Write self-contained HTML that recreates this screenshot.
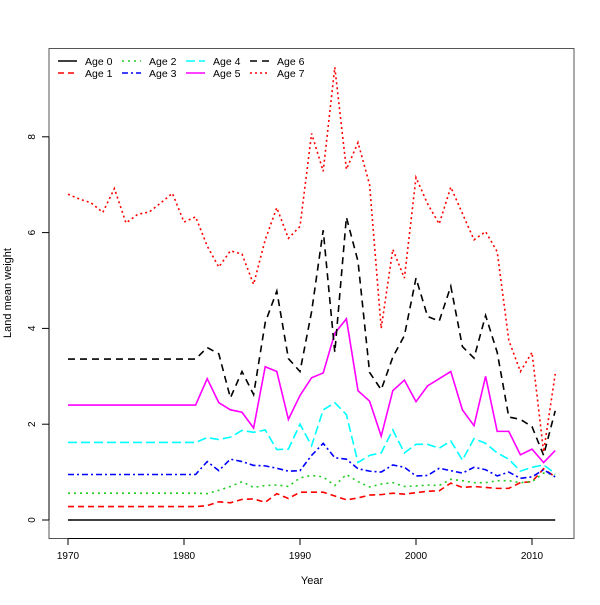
<!DOCTYPE html>
<html><head><meta charset="utf-8"><style>
body{margin:0;background:#fff;}
text{font-family:"Liberation Sans",sans-serif;}
</style></head><body>
<svg id="chart" width="600" height="600" xmlns="http://www.w3.org/2000/svg">
<rect width="600" height="600" fill="#fff"/>
<rect x="49" y="48.5" width="525" height="490" fill="none" stroke="#555" stroke-width="1"/>
<g id="axes"></g>
<g id="series"></g>
<g id="legend"></g>
<text x="312" y="584" font-size="11" text-anchor="middle">Year</text>
<text transform="translate(11,293) rotate(-90)" font-size="11" text-anchor="middle">Land mean weight</text>
</svg>
<script>
const years = [];
for (let y = 1970; y <= 2012; y++) years.push(y);
const flat12 = v => Array(12).fill(v);
const age0 = Array(43).fill(0);
const age1 = flat12(0.28).concat([0.3,0.38,0.36,0.43,0.44,0.37,0.55,0.45,0.58,0.58,0.58,0.5,0.42,0.46,0.52,0.53,0.56,0.54,0.57,0.6,0.61,0.77,0.68,0.7,0.68,0.66,0.66,0.78,0.8,1.07,0.9]);
const age2 = flat12(0.56).concat([0.55,0.62,0.7,0.8,0.68,0.72,0.73,0.7,0.88,0.93,0.9,0.72,0.95,0.8,0.69,0.75,0.78,0.7,0.71,0.73,0.72,0.85,0.82,0.78,0.78,0.82,0.82,0.78,0.8,0.98,0.95]);
const age3 = flat12(0.95).concat([1.22,1.03,1.27,1.22,1.14,1.13,1.08,1.02,1.03,1.35,1.6,1.3,1.27,1.07,1.02,1.0,1.15,1.1,0.92,0.93,1.08,1.03,0.98,1.1,1.05,0.92,1.0,0.87,0.9,1.05,0.9]);
const age4 = flat12(1.62).concat([1.72,1.68,1.73,1.87,1.83,1.88,1.47,1.48,2.0,1.55,2.3,2.45,2.2,1.2,1.35,1.4,1.88,1.4,1.58,1.58,1.5,1.65,1.25,1.7,1.6,1.4,1.27,1.02,1.1,1.15,0.97]);
const age5 = flat12(2.4).concat([2.95,2.45,2.3,2.25,1.92,3.2,3.1,2.1,2.6,2.97,3.07,3.9,4.2,2.7,2.48,1.75,2.7,2.92,2.47,2.8,2.95,3.1,2.3,1.97,3.0,1.85,1.85,1.36,1.48,1.2,1.45]);
const age6 = flat12(3.36).concat([3.6,3.47,2.55,3.1,2.62,4.12,4.78,3.37,3.1,4.35,6.05,3.5,6.32,5.4,3.08,2.72,3.4,3.85,5.05,4.25,4.15,4.88,3.62,3.38,4.27,3.5,2.15,2.1,1.95,1.35,2.28]);
const age7 = [6.8,6.7,6.62,6.42,6.92,6.2,6.38,6.43,6.62,6.82,6.22,6.33,5.72,5.28,5.62,5.55,4.92,5.85,6.52,5.88,6.13,8.07,7.28,9.45,7.32,7.88,7.0,4.0,5.65,5.05,7.15,6.6,6.18,6.95,6.4,5.85,6.02,5.6,3.75,3.1,3.5,1.42,3.05];
const xTicks = [1970,1980,1990,2000,2010];
const yTicks = [0,2,4,6,8];
const seriesNames = ["Age 0","Age 1","Age 2","Age 3","Age 4","Age 5","Age 6","Age 7"];

const seriesData = [age0,age1,age2,age3,age4,age5,age6,age7];
const colors = ["#000","#f00","#22cc22","#00f","#00ffff","#ff00ff","#000","#f00"];
const dashes = ["","6,4","2,4","6,3,2,3","9,4","","7,5","2,3"];
const NS = "http://www.w3.org/2000/svg";
const xS = v => 68 + (v - 1970) * 11.6;
const yS = v => 520 - v * 47.9;
function mk(tag, attrs, parent){const e=document.createElementNS(NS,tag);for(const k in attrs)e.setAttribute(k,attrs[k]);parent.appendChild(e);return e;}
const axes = document.getElementById('axes');
mk('line',{x1:xS(1970),x2:xS(2010),y1:538.5,y2:538.5,stroke:'#000'},axes);
for (const t of xTicks){
  const l=mk('line',{x1:xS(t),x2:xS(t),y1:538.5,y2:545,stroke:'#000'},axes);
  
  
  const tx=mk('text',{x:xS(t),y:559,'font-size':10,'text-anchor':'middle'},axes);
  tx.textContent=t;
  
  
}
mk('line',{x1:49,x2:49,y1:yS(0),y2:yS(8),stroke:'#000'},axes);
for (const t of yTicks){
  const l=mk('line',{x1:42,x2:49,y1:yS(t),y2:yS(t),stroke:'#000'},axes);
  
  
  const tx=mk('text',{transform:`translate(35,${yS(t)}) rotate(-90)`,'font-size':10,'text-anchor':'middle'},axes);
  tx.textContent=t;
  
  
}
const sg = document.getElementById('series');
seriesData.forEach((d,i)=>{
  const pts=d.map((v,j)=>xS(years[j])+','+yS(v)).join(' ');
  const p=mk('polyline',{points:pts,fill:'none',stroke:colors[i],'stroke-width':1.6,'stroke-dasharray':dashes[i]},sg);
  
  
});
const lg = document.getElementById('legend');
seriesNames.forEach((n,i)=>{
  const col=Math.floor(i/2), row=i%2;
  const x=58+col*64, y=61+row*12;
  const l=mk('line',{x1:x,x2:x+19,y1:y,y2:y,stroke:colors[i],'stroke-width':1.6,'stroke-dasharray':dashes[i]},lg);
  
  
  const t=mk('text',{x:x+27,y:y+4,'font-size':10.5},lg);
  t.textContent=n;
  
  
});
</script>
</body></html>
